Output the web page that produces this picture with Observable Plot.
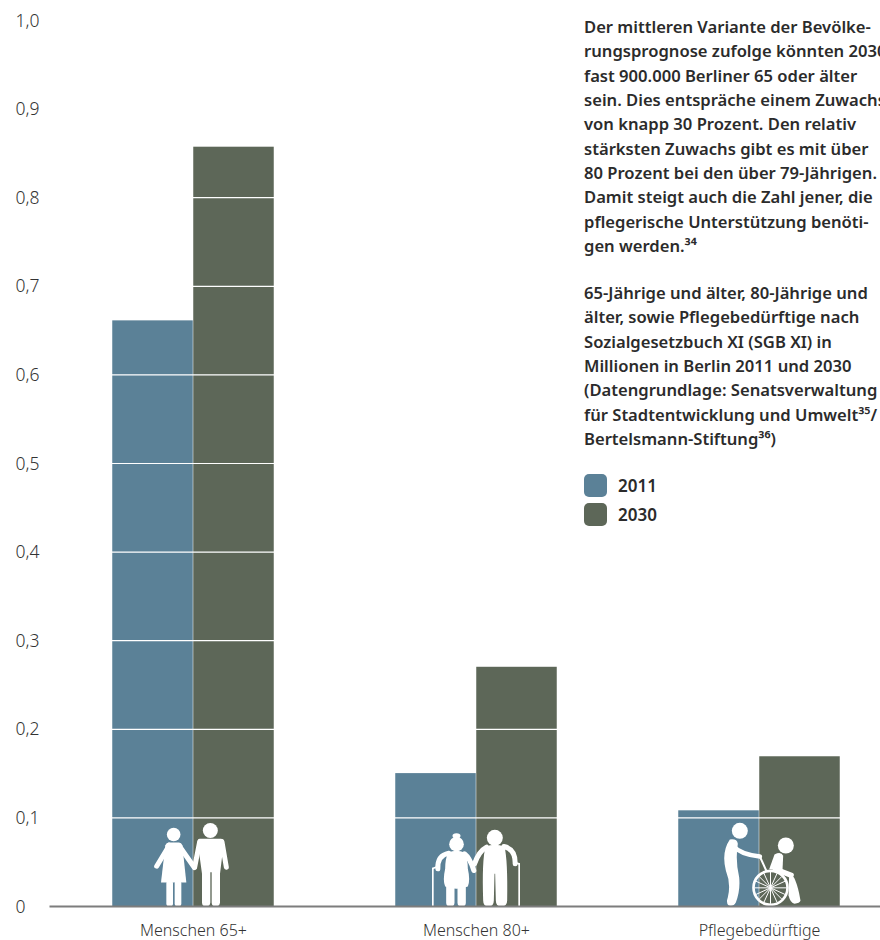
<!DOCTYPE html>
<html lang="de">
<head>
<meta charset="utf-8">
<script src="https://cdn.jsdelivr.net/npm/d3@7"></script>
<script src="https://cdn.jsdelivr.net/npm/@observablehq/plot@0.6"></script>
<style>
  html, body { margin: 0; background: #fff; }
  #page { position: relative; width: 880px; height: 940px; overflow: hidden; font-family: "Noto Sans", sans-serif; }
  #page svg { position: absolute; left: 0; top: 0; }
  .note { position: absolute; left: 584px; white-space: pre; font-weight: 600; font-size: 16.6px; line-height: 24.35px; color: #2b2b2b; }
  .key { position: absolute; left: 584px; display: flex; align-items: center; font-weight: 600; font-size: 17px; color: #2b2b2b; }
  .key i { display: block; width: 23px; height: 23px; border-radius: 5px; margin-right: 11px; }
</style>
</head>
<body>
<div id="page"></div>
<script>
// Berlin population groups, in millions
const groups = ["Menschen 65+", "Menschen 80+", "Pflegebedürftige"];
const years = ["2011", "2030"];
const values2011 = [0.661, 0.150, 0.108];
const values2030 = [0.857, 0.270, 0.169];
const yearColors = ["#5b8197", "#5d6758"];
const yTicks = [0, 0.1, 0.2, 0.3, 0.4, 0.5, 0.6, 0.7, 0.8, 0.9, 1];

const introLines = [
  "Der mittleren Variante der Bevölke-",
  "rungsprognose zufolge könnten 2030",
  "fast 900.000 Berliner 65 oder älter",
  "sein. Dies entspräche einem Zuwachs",
  "von knapp 30 Prozent. Den relativ",
  "stärksten Zuwachs gibt es mit über",
  "80 Prozent bei den über 79-Jährigen.",
  "Damit steigt auch die Zahl jener, die",
  "pflegerische Unterstützung benöti-",
  "gen werden.³⁴"
];
const headingLines = [
  "65-Jährige und älter, 80-Jährige und",
  "älter, sowie Pflegebedürftige nach",
  "Sozialgesetzbuch XI (SGB XI) in",
  "Millionen in Berlin 2011 und 2030",
  "(Datengrundlage: Senatsverwaltung",
  "für Stadtentwicklung und Umwelt³⁵/",
  "Bertelsmann-Stiftung³⁶)"
];

// White pictograms for the three groups, one per facet
const coupleIcon = `<svg xmlns="http://www.w3.org/2000/svg" viewBox="427.5 108 300 270">
  <g fill="#fff" stroke="none">
    <circle cx="518" cy="162" r="20.5"/><circle cx="628" cy="150" r="22.5"/>
    <path d="M503 186H534Q541 186 544 194L556 306H480L493 194Q496 186 503 186Z"/>
    <rect x="496" y="300" width="20" height="78" rx="9"/><rect x="521" y="300" width="20" height="78" rx="9"/>
    <path d="M596 175H660Q667 175 669 182L657 280V366Q656 378 644 378Q632 378 632 366V275H628V366Q627 378 615 378Q603 378 603 366V280L590 185Q590 175 596 175Z"/>
  </g>
  <g fill="none" stroke="#fff" stroke-width="15" stroke-linecap="round">
    <path d="M505 194L467 257"/><path d="M536 198L580 261"/>
    <path d="M596 184L581 260"/><path d="M663 184L676 260"/>
  </g>
</svg>`;
const eldersIcon = `<svg xmlns="http://www.w3.org/2000/svg" viewBox="138 108 300 270">
  <g fill="#fff" stroke="none">
    <ellipse cx="228" cy="166" rx="12" ry="8"/><circle cx="228" cy="191" r="22"/><circle cx="343" cy="172" r="24"/>
    <path d="M203 216Q228 206 252 216Q262 235 262 265Q270 300 262 318Q228 332 194 318Q186 300 194 265Q194 235 203 216Z"/>
    <rect x="197" y="310" width="25" height="68" rx="11"/><rect x="231" y="310" width="25" height="68" rx="11"/>
    <path d="M315 198Q343 188 372 198Q382 240 380 360Q380 378 362 378Q346 378 346 360L344 280H342L340 360Q340 378 324 378Q308 378 308 360Q304 240 315 198Z"/>
  </g>
  <g fill="none" stroke="#fff" stroke-linecap="round">
    <path d="M205 218Q170 225 172 265M252 220Q268 232 280 270" stroke-width="15"/>
    <path d="M318 200Q295 212 282 250M370 198Q405 205 404 250" stroke-width="15"/>
    <path d="M157 262V378M416 248V378" stroke-width="5" stroke-linecap="butt"/>
    <path d="M157 264L166 260M416 250L408 248" stroke-width="5"/>
  </g>
</svg>`;
const careIcon = `<svg xmlns="http://www.w3.org/2000/svg" viewBox="147 108 300 270">
  <g fill="#fff" stroke="none">
    <circle cx="238" cy="151" r="24"/><circle cx="376" cy="195" r="24"/>
    <path d="M208 177Q230 174 232 190Q224 240 236 290Q240 330 226 366Q218 380 204 374Q196 368 202 350Q212 310 196 270Q182 215 208 177Z"/>
    <path d="M386 280Q406 280 420 360Q418 368 402 370Q390 368 384 345Z"/>
    <path d="M342 222Q362 212 368 226L366 270L326 266Z"/>
  </g>
  <g fill="none" stroke="#fff" stroke-linecap="round">
    <path d="M216 195Q240 222 298 228" stroke-width="14"/>
    <path d="M298 228L318 272" stroke-width="6"/>
    <path d="M345 266L392 284" stroke-width="16"/>
    <circle cx="330" cy="322" r="51" stroke-width="8"/>
    <path d="M330 322L330 274M330 322L330 370M330 322L282 322M330 322L378 322M330 322L296 288M330 322L364 356M330 322L364 288M330 322L296 356M330 322L310 278M330 322L350 366M330 322L350 278M330 322L310 366M330 322L286 302M330 322L374 342M330 322L374 302M330 322L286 342" stroke-width="3" stroke-linecap="butt"/>
  </g>
</svg>`;
const icons = [coupleIcon, eldersIcon, careIcon];

const rows = groups.flatMap((group, i) => [
  {group, year: years[0], value: values2011[i]},
  {group, year: years[1], value: values2030[i]}
]);
const iconRows = groups.map((group, i) => ({
  group,
  src: "data:image/svg+xml," + encodeURIComponent(icons[i])
}));

const chart = Plot.plot({
  width: 880,
  height: 940,
  marginTop: 20,
  marginBottom: 34,
  marginLeft: 51,
  marginRight: -20,
  style: {background: "transparent", fontFamily: "'Noto Sans', sans-serif"},
  fx: {domain: groups, paddingInner: 0.4276, paddingOuter: 0.2138, label: null},
  x: {domain: years, padding: 0, axis: null},
  y: {domain: [0, 1], axis: null},
  color: {domain: years, range: yearColors},
  marks: [
    Plot.barY(rows, {fx: "group", x: "year", y: "value", fill: "year", insetLeft: 0.25, insetRight: 0.25}),
    Plot.ruleY(yTicks.slice(1), {stroke: "#fff", strokeWidth: 1.2}),
    Plot.image(iconRows, {fx: "group", y: () => 0, src: "src", width: 100, height: 90, dy: -45, frameAnchor: "middle"}),
    // Baseline runs the full page width, past the outer facets
    Plot.frame({anchor: "bottom", stroke: "#7d7d7d", strokeWidth: 2, facet: "super", insetLeft: -62, insetRight: -60}),
    Plot.axisY(yTicks, {
      tickSize: 0,
      textAnchor: "start",
      dx: -88,
      dy: 0.5,
      fontSize: 17.5,
      fontWeight: 300,
      fill: "#333",
      tickFormat: (d) => (d === 0 ? "0" : d.toFixed(1).replace(".", ",")),
      label: null
    }),
    Plot.axisFx({anchor: "bottom", tickSize: 0, tickPadding: 18.5, fontSize: 16, fontWeight: 300, fill: "#333", label: null})
  ]
});

const page = document.getElementById("page");
page.append(chart);

function addNote(lines, top) {
  const note = document.createElement("div");
  note.className = "note";
  note.style.top = top + "px";
  note.textContent = lines.join("\n");
  page.append(note);
}
addNote(introLines, 15);
addNote(headingLines, 281);

years.forEach((year, i) => {
  const key = document.createElement("div");
  key.className = "key";
  key.style.top = 474 + i * 29 + "px";
  const swatch = document.createElement("i");
  swatch.style.background = yearColors[i];
  key.append(swatch, year);
  page.append(key);
});
</script>
</body>
</html>
